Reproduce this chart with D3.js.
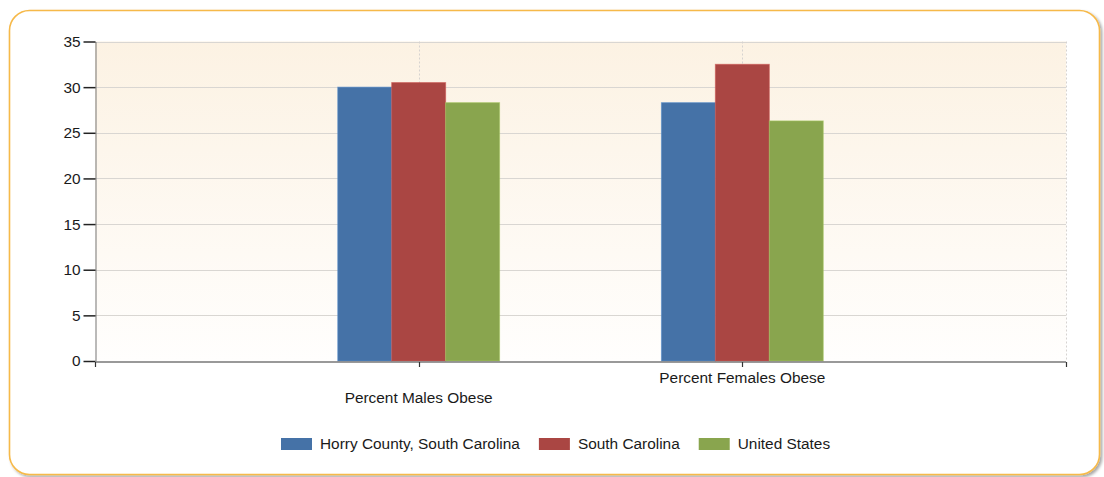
<!DOCTYPE html>
<html>
<head>
<meta charset="utf-8">
<script src="https://cdn.jsdelivr.net/npm/d3@7"></script>
<style>
  html, body { margin: 0; padding: 0; background: #ffffff; }
  svg { display: block; }
  text { font-family: "Liberation Sans", Arial, sans-serif; fill: #1a1a1a; }
</style>
</head>
<body>
<svg id="chart" width="1104" height="477"></svg>
<script>
// Obesity rates by sex, county vs. state vs. nation
const categories = ["Percent Males Obese", "Percent Females Obese"];
const seriesNames = ["Horry County, South Carolina", "South Carolina", "United States"];
const horryValues = [30.0, 28.3];
const southCarolinaValues = [30.5, 32.5];
const unitedStatesValues = [28.3, 26.3];
const seriesColors = ["#4572a7", "#aa4643", "#89a54e"];
const yTicks = [0, 5, 10, 15, 20, 25, 30, 35];

const seriesValues = [horryValues, southCarolinaValues, unitedStatesValues];

const svg = d3.select("#chart");
const plot = { left: 95, right: 1066, top: 41.5, bottom: 361 };

// Gradient fill for the plotting area
const defs = svg.append("defs");
const grad = defs.append("linearGradient")
  .attr("id", "plotBg").attr("x1", 0).attr("y1", 0).attr("x2", 0).attr("y2", 1);
grad.append("stop").attr("offset", "0%").attr("stop-color", "#fcf2e3");
grad.append("stop").attr("offset", "100%").attr("stop-color", "#fffefd");

const shadow = defs.append("filter").attr("id", "frameShadow")
  .attr("x", "-5%").attr("y", "-5%").attr("width", "110%").attr("height", "115%");
shadow.append("feDropShadow").attr("dx", 2).attr("dy", 2).attr("stdDeviation", 1.5)
  .attr("flood-color", "#000").attr("flood-opacity", 0.35);

// Outer rounded frame
svg.append("rect")
  .attr("x", 9.5).attr("y", 10.5).attr("width", 1090).attr("height", 464)
  .attr("rx", 20).attr("ry", 20)
  .attr("fill", "#ffffff").attr("stroke", "#f6b94a").attr("stroke-width", 1.6)
  .attr("filter", "url(#frameShadow)");

// Scales
const y = d3.scaleLinear().domain([0, 35]).range([plot.bottom, plot.top]);
const x = d3.scaleLinear().domain([0, categories.length + 1]).range([plot.left, plot.right]);
const slot = x(1) - x(0);
const inner = d3.scaleBand().domain(seriesNames).range([-slot / 4, slot / 4]).padding(0);

// Plot background
svg.append("rect")
  .attr("x", plot.left).attr("y", plot.top)
  .attr("width", plot.right - plot.left).attr("height", plot.bottom - plot.top)
  .attr("fill", "url(#plotBg)");

// Horizontal gridlines
svg.append("g").selectAll("line").data(yTicks.filter(d => d > 0)).join("line")
  .attr("x1", plot.left).attr("x2", plot.right)
  .attr("y1", d => Math.round(y(d)) + 0.5).attr("y2", d => Math.round(y(d)) + 0.5)
  .attr("stroke", "#d9d6d2").attr("stroke-width", 1);

// Vertical dotted gridlines at categories and the right edge
const vLines = categories.map((c, i) => i + 1).concat([categories.length + 1]);
svg.append("g").selectAll("line").data(vLines).join("line")
  .attr("x1", d => Math.round(x(d)) + 0.5).attr("x2", d => Math.round(x(d)) + 0.5)
  .attr("y1", plot.top).attr("y2", plot.bottom)
  .attr("stroke", "#d6d3d0").attr("stroke-width", 1).attr("stroke-dasharray", "2,2");

// Bars
const groups = svg.append("g").selectAll("g").data(categories).join("g")
  .attr("transform", (c, i) => `translate(${x(i + 1)},0)`);
groups.selectAll("rect")
  .data((c, i) => seriesNames.map((s, k) => ({ s, k, v: seriesValues[k][i] })))
  .join("rect")
  .attr("x", d => inner(d.s))
  .attr("width", inner.bandwidth())
  .attr("y", d => y(d.v))
  .attr("height", d => y(0) - y(d.v))
  .attr("fill", d => seriesColors[d.k])
  .attr("stroke", d => d3.color(seriesColors[d.k]).brighter(0.5))
  .attr("stroke-opacity", 0.6)
  .attr("stroke-width", 1);

// Y axis
const yAxis = d3.axisLeft(y).tickValues(yTicks).tickSize(12).tickPadding(3).tickSizeOuter(0);
const gy = svg.append("g").attr("transform", `translate(${plot.left + 0.5},0)`).call(yAxis);
gy.select(".domain").attr("stroke", "#777");
gy.selectAll(".tick line").attr("stroke", "#222").attr("stroke-width", 1.5);
gy.selectAll(".tick text").style("font-size", "15.4px").attr("fill", "#1a1a1a");

// X axis line and ticks
const gx = svg.append("g");
gx.append("line")
  .attr("x1", plot.left).attr("x2", plot.right)
  .attr("y1", plot.bottom + 1).attr("y2", plot.bottom + 1)
  .attr("stroke", "#777").attr("stroke-width", 1.5);
const xTickVals = d3.range(0, categories.length + 2);
gx.selectAll("line.tick").data(xTickVals).join("line").attr("class", "tick")
  .attr("x1", d => Math.round(x(d)) + 0.5).attr("x2", d => Math.round(x(d)) + 0.5)
  .attr("y1", plot.bottom + 1).attr("y2", plot.bottom + 6)
  .attr("stroke", "#333").attr("stroke-width", 1.2);

// Category labels, staggered
gx.selectAll("text").data(categories).join("text")
  .attr("x", (c, i) => x(i + 1))
  .attr("y", (c, i) => i % 2 === 0 ? 403 : 383)
  .attr("text-anchor", "middle")
  .style("font-size", "15.4px")
  .text(c => c);

// Legend
const legend = svg.append("g").attr("transform", "translate(281,438)");
let lx = 0;
seriesNames.forEach((name, k) => {
  const item = legend.append("g").attr("transform", `translate(${lx},0)`);
  item.append("rect").attr("width", 31).attr("height", 12).attr("fill", seriesColors[k]);
  const t = item.append("text").attr("x", 39).attr("y", 11)
    .style("font-size", "15.4px").text(name);
  lx += 39 + t.node().getComputedTextLength() + 19;
});
</script>
</body>
</html>
